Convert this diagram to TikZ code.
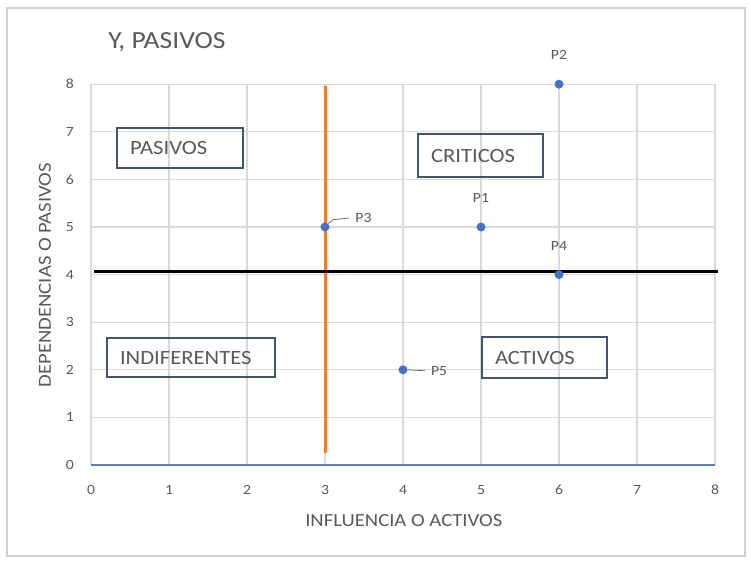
\documentclass[tikz,border=0pt]{standalone}
\usepackage{fontspec}
\setmainfont{Carlito}[FakeStretch=1.12]
\usepackage{tikz}
\usetikzlibrary{arrows.meta, positioning}
\usepackage{xcolor}
\definecolor{gridgray}{HTML}{D9D9D9}
\definecolor{framegray}{HTML}{D0D0D0}
\definecolor{textgray}{HTML}{595959}
\definecolor{dotblue}{HTML}{4472C4}
\definecolor{boxblue}{HTML}{44546A}
\definecolor{axisblue}{HTML}{5B7DB8}
\definecolor{splitorange}{HTML}{ED7D31}

\begin{document}
\begin{tikzpicture}[
        x=1.56cm, y=0.952cm,
        zone/.style={
          rectangle,
          draw=boxblue,
          line width=0.8pt,
          minimum height=0.8cm,
          inner xsep=0.26cm,
          align=left,
          text=textgray,
          font=\fontsize{11.5}{13}\selectfont
        },
        point/.style={
          circle,
          fill=dotblue,
          inner sep=0pt,
          minimum size=0.18cm
        },
        tag/.style={
          font=\fontsize{8}{9}\selectfont,
          text=textgray
        },
        ticklabel/.style={
          font=\fontsize{8}{9}\selectfont,
          text=textgray
        },
        gridline/.style={
          gridgray,
          line width=0.6pt
        }
      ]

      \useasboundingbox (-1.1667,-2.1008) rectangle (8.4615,9.7689);

      % Frame
      \draw[framegray, line width=0.8pt] (-1.077,-1.912) rectangle (8.385,9.60);

      % Title
      \node[anchor=west, inner sep=0pt, text=textgray, font=\fontsize{14}{16}\selectfont] (title) at (0.218,8.89) {Y, PASIVOS};

      % Grid
      \foreach \x in {0,...,8}
        \draw[gridline] (\x,0) -- (\x,8);
      \foreach \y in {1,...,8}
        \draw[gridline] (0,\y) -- (8,\y);
      \draw[axisblue, line width=0.8pt] (0,0) -- (8,0);

      % Tick labels
      \foreach \x in {0,...,8}
        \node[ticklabel] at (\x,-0.52) {\x};
      \foreach \y in {0,...,8}
        \node[ticklabel] at (-0.27,\y) {\y};

      % Axis titles
      \node[text=textgray, font=\fontsize{10.5}{12}\selectfont] (xtitle) at (4.01,-1.16) {INFLUENCIA O ACTIVOS};
      \node[text=textgray, font=\fontsize{10.5}{12}\selectfont, rotate=90] (ytitle) at (-0.59,3.99) {DEPENDENCIAS O PASIVOS};

      % Dividing lines
      \coordinate (vtop) at (3,7.96);
      \coordinate (vbot) at (3,0.25);
      \coordinate (hleft) at (0.04,4.055);
      \coordinate (hright) at (8.04,4.055);
      \draw[splitorange, line width=1.7pt] (vbot) -- (vtop);
      \draw[black, line width=1.7pt] (hleft) -- (hright);

      % Quadrants
      \node[zone, text width=2.0cm] (pasivos) at (1.141,6.66) {PASIVOS};
      \node[zone, text width=1.98cm, minimum height=0.86cm] (criticos) at (4.994,6.50) {CRITICOS};
      \node[zone, text width=2.84cm, minimum height=0.78cm] (indiferentes) at (1.282,2.258) {INDIFERENTES};
      \node[zone, text width=1.98cm, minimum height=0.82cm] (activos) at (5.814,2.258) {ACTIVOS};

      % Points
      \node[point] (p1) at (5,5) {};
      \node[point] (p2) at (6,8) {};
      \node[point] (p3) at (3,5) {};
      \node[point] (p4) at (6,4) {};
      \node[point] (p5) at (4,2) {};

      % Point labels
      \node[tag, above=0.27cm of p1] (p1tag) {P1};
      \node[tag, above=0.27cm of p2] (p2tag) {P2};
      \node[tag, above=0.27cm of p4] (p4tag) {P4};
      \node[tag, anchor=west] (p3tag) at (3.31,5.19) {P3};
      \node[tag, anchor=west] (p5tag) at (4.28,1.98) {P5};

      \draw[textgray, line width=0.4pt] (p3.north east) -- ++(0.06,0.08) -- (p3tag.west);
      \draw[textgray, line width=0.4pt] (p5.east) -- (p5tag.west);

    \end{tikzpicture}
\end{document}
